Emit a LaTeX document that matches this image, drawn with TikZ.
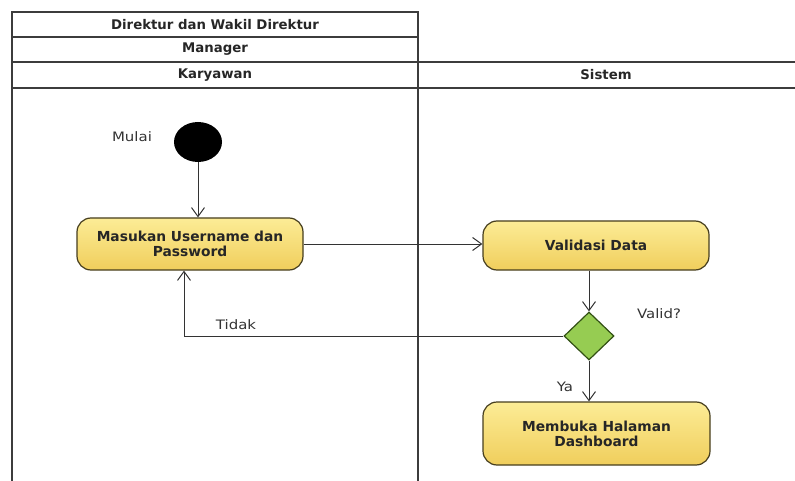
\documentclass[tikz,border=0pt]{standalone}
\usepackage{fontspec}
\setmainfont{DejaVu Sans}
\newfontfamily\lblfont{DejaVu Sans}[FakeStretch=1.15]
\usetikzlibrary{arrows.meta,shapes.geometric}
\definecolor{lanecol}{RGB}{60,60,60}
\definecolor{boxtop}{RGB}{252,236,150}
\definecolor{boxbot}{RGB}{240,206,92}
\definecolor{boxline}{RGB}{70,62,30}
\definecolor{diafill}{RGB}{150,204,82}
\definecolor{dialine}{RGB}{50,80,20}
\tikzset{
  lane/.style={draw=lanecol,line width=1.4pt},
  head/.style={font=\fontsize{13.3}{15}\selectfont\bfseries,text=black!85},
  actbox/.style={rectangle,rounded corners=14pt,draw=boxline,line width=1.2pt,
    top color=boxtop,bottom color=boxbot,align=center,
    font=\fontsize{13.8}{15}\selectfont\bfseries,text=black!85,inner sep=0pt},
  flow/.style={draw=black!80,line width=1pt,-{Straight Barb[length=9pt,width=13pt,line width=1pt]}},
  lbl/.style={font=\lblfont\fontsize{13}{15}\selectfont,text=black!80},
}
\begin{document}
\begin{tikzpicture}[x=1pt,y=-1pt]
\useasboundingbox (0,0) rectangle (795,481);
% swimlane headers
\draw[lane] (12,12) rectangle (418,37);
\draw[lane] (12,37) rectangle (418,62);
\draw[lane] (12,62) rectangle (418,88);
\draw[lane] (418,62) -- (795,62);
\draw[lane] (418,88) -- (795,88);
\draw[lane] (12,88) -- (12,481);
\draw[lane] (418,88) -- (418,481);
\node[head] (h1) at (215,24.5) {Direktur dan Wakil Direktur};
\node[head] (h2) at (215,49.5) {Manager};
\node[head] (h3) at (215,75) {Karyawan};
\node[head] (h4) at (606,75) {Sistem};
% nodes
\node[ellipse,fill=black,minimum width=48pt,minimum height=40pt,inner sep=0pt] (start) at (198,142) {};
\node[lbl,anchor=center] (mulai) at (132,137) {Mulai};
\node[actbox,minimum width=226pt,minimum height=52pt] (masuk) at (190,244) {Masukan Username dan\\Password};
\node[actbox,minimum width=226pt,minimum height=49pt] (valid) at (596,245.5) {Validasi Data};
\node[diamond,draw=dialine,line width=1.2pt,fill=diafill,minimum width=50pt,minimum height=48pt,inner sep=0pt,aspect=1.04] (dec) at (589,336) {};
\node[lbl] (validq) at (659,314) {Valid?};
\node[actbox,minimum width=227pt,minimum height=63pt] (dash) at (596.5,433.5) {Membuka Halaman\\Dashboard};
\node[lbl] (tidak) at (236,325) {Tidak};
\node[lbl] (ya) at (565,387) {Ya};
\coordinate (tk) at (184,336);
% connectors
\draw[flow] (start.south) -- (start.south |- masuk.north);
\draw[flow] (masuk.east) -- (valid.west |- masuk.east);
\draw[flow] (dec.north |- valid.south) -- (dec.north);
\draw[flow] (dec.south) -- (dec.south |- dash.north);
\draw[flow] (dec.west) -- (tk) -- (tk |- masuk.south);
\end{tikzpicture}
\end{document}
